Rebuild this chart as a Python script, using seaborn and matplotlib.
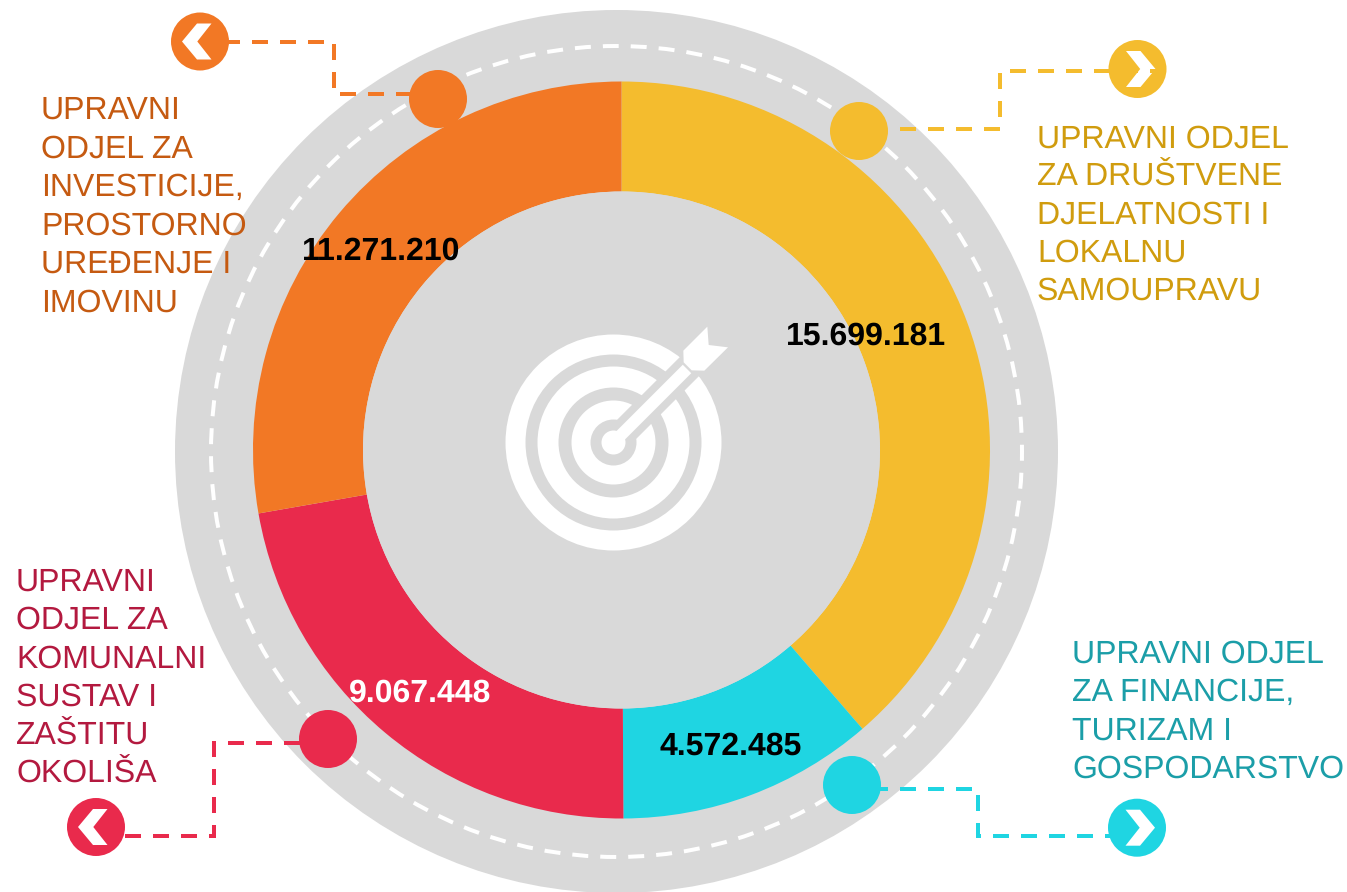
import matplotlib
matplotlib.use('Agg')
import matplotlib.pyplot as plt
import seaborn as sns
from matplotlib.patches import Circle, Polygon

# ---------------------------------------   data   ---------------------------------------
values = [15699181, 4572485, 9067448, 11271210]
slice_colors = ['#F4BC2E', '#1FD5E2', '#E92A4C', '#F27825']
text_colors = ['#D09C0E', '#1B9EA8', '#B3193F', '#C55A11']
value_colors = ['black', 'black', 'white', 'black']
label_lines = [
    ['UPRAVNI ODJEL', 'ZA DRUŠTVENE', 'DJELATNOSTI I', 'LOKALNU', 'SAMOUPRAVU'],
    ['UPRAVNI ODJEL', 'ZA FINANCIJE,', 'TURIZAM I', 'GOSPODARSTVO'],
    ['UPRAVNI', 'ODJEL ZA', 'KOMUNALNI', 'SUSTAV I', 'ZAŠTITU', 'OKOLIŠA'],
    ['UPRAVNI', 'ODJEL ZA', 'INVESTICIJE,', 'PROSTORNO', 'UREĐENJE I', 'IMOVINU'],
]

# ---------------------------------------   layout (pixels)   ----------------------------
W, H = 1347, 892
GRAY = '#D9D9D9'
value_pos = [(866, 333.5), (731, 743.5), (420, 690.5), (381, 248.5)]
label_pos = [(1037, 136, 38.0), (1072, 651, 38.4), (16, 579, 38.4), (41, 107.5, 38.5)]
dot_pos = [(859, 131), (852, 785), (328, 739), (438, 99)]
badge_pos = [(1137.5, 69), (1137, 827.7), (96, 827), (200, 41.5)]
badge_dir = [1, 1, -1, -1]
leaders = [
    [(900, 129), (1000, 129), (1000, 70.7), (1166, 70.7)],
    [(872, 789.3), (977.7, 789.3), (977.7, 835.7), (1115, 835.7)],
    [(125, 835.7), (214.3, 835.7), (214.3, 743), (305, 743)],
    [(223.7, 41.6), (334, 41.6), (334, 94), (415, 94)],
]
LINE_PX = 4.0
LW = LINE_PX * 0.72
DASH = (0, (16 / LINE_PX, 12 / LINE_PX))
RING_DASH = (13.8 / LINE_PX, (16 / LINE_PX, 12 / LINE_PX))

sns.set_theme(style='white')
plt.rcParams['font.family'] = ['Liberation Sans', 'DejaVu Sans']
plt.rcParams['text.hinting'] = 'none'
palette = sns.color_palette(slice_colors)

fig = plt.figure(figsize=(W / 100, H / 100), dpi=100)
ax = fig.add_axes([0, 0, 1, 1])

# background rings
ax.add_patch(Circle((616.5, 451.5), 441.5, color=GRAY, lw=0, zorder=0))
ax.add_patch(Circle((616.5, 451.5), 405.5, fill=False, ec='white', lw=LW, ls=RING_DASH, zorder=1))

# y axis is flipped below, so 270 degrees is the top of the ring and angles run clockwise
ax.pie(values, colors=palette, startangle=270, counterclock=True, center=(621.5, 450),
       radius=368.5, wedgeprops={'width': 110, 'linewidth': 0, 'zorder': 2})
ax.add_patch(Circle((621.5, 450), 258.5, color=GRAY, lw=0, zorder=3))

ax.set_xlim(0, W)
ax.set_ylim(H, 0)
ax.set_aspect('equal')
ax.axis('off')

# target icon in the middle
tx, ty = 613.5, 442.5
for r, c in [(108, 'white'), (88, GRAY), (76, 'white'), (55, GRAY), (42, 'white'), (23, GRAY)]:
    ax.add_patch(Circle((tx, ty), r, color=c, lw=0, zorder=4))
ax.plot([tx, tx + 90], [ty, ty - 90], color=GRAY, lw=27 * 0.72, solid_capstyle='butt', zorder=5)
ax.add_patch(Circle((tx, ty), 12, color='white', lw=0, zorder=6))
ax.plot([tx, 687], [ty, 442.5 - (687 - tx)], color='white', lw=12 * 0.72, solid_capstyle='butt', zorder=6)
fletch = [(580, 122), (652, 50), (656, 105), (714, 112), (643, 182), (605, 181), (581, 157)]
ax.add_patch(Polygon([(490 + x / 3, 310 + y / 3) for x, y in fletch], color='white', lw=0, zorder=6))

# leaders, dots, badges with chevrons
for color, line, dot, badge, d in zip(palette, leaders, dot_pos, badge_pos, badge_dir):
    ax.add_patch(Circle(badge, 29, color=color, lw=0, zorder=7))
    chev = [(-11.5, -18), (3, -18), (18, 0), (3, 18), (-11.5, 18), (2.7, 0)]
    ax.add_patch(Polygon([(badge[0] + d * x, badge[1] + y) for x, y in chev], color='white', lw=0, zorder=8))
    ax.plot([p[0] for p in line], [p[1] for p in line], color=color, lw=LW, ls=DASH,
            dash_capstyle='butt', dash_joinstyle='miter', zorder=9)
    ax.add_patch(Circle(dot, 29, color=color, lw=0, zorder=10))

# value labels
for v, c, (x, y) in zip(values, value_colors, value_pos):
    ax.text(x, y, f'{v:,}'.replace(',', '.'), color=c, fontsize=23, fontweight='bold',
            ha='center', va='center_baseline', zorder=11)

# department labels
for lines, c, (x, y, step) in zip(label_lines, text_colors, label_pos):
    for i, line in enumerate(lines):
        ax.text(x, y + i * step, line, color=c, fontsize=23, ha='left', va='center_baseline', zorder=11)

fig.savefig('out.png', dpi=100, facecolor='white')
